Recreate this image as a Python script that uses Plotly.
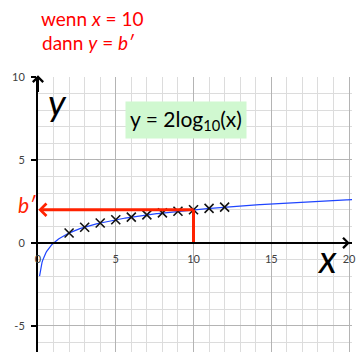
import numpy as np
import plotly.graph_objects as go

# Sample points marked with crosses
x_points = [2, 3, 4, 5, 6, 7, 8, 9, 10, 11, 12]
y_points = [0.60, 0.95, 1.20, 1.40, 1.56, 1.69, 1.81, 1.91, 2.00, 2.08, 2.16]

# Highlighted value: x = 10 gives y = b'
x_mark = 10
b_prime = 2.0

# Axis ranges and ticks
x_range = [0, 20.19]
y_range = [-6.57, 10]
x_ticks = [0, 5, 10, 15, 20]
y_ticks = [10, 5, 0, -5]
y_ticktext = ["10", "5", "0", "-5"]

# Curve y = 2*log10(x)
x_curve = np.linspace(0.1, 20.4, 400)
y_curve = 2 * np.log10(x_curve)

RED = "#ff2200"
FONT = "Lato"

fig = go.Figure()

fig.add_trace(go.Scatter(
    x=x_curve, y=y_curve, mode="lines",
    line=dict(color="#1f45ff", width=1.2), hoverinfo="skip",
))

fig.add_trace(go.Scatter(
    x=x_points, y=y_points, mode="markers",
    marker=dict(symbol="x-thin", size=9, line=dict(color="#111111", width=1.6)),
))

# vertical red segment from the x axis up to the curve
fig.add_trace(go.Scatter(
    x=[x_mark, x_mark], y=[0, b_prime], mode="lines",
    line=dict(color=RED, width=3), hoverinfo="skip",
))

annotations = [
    # horizontal red arrow to the y axis
    dict(x=0.02, y=b_prime, ax=x_mark + 0.1, ay=b_prime, xref="x", yref="y",
         axref="x", ayref="y", text="", showarrow=True, arrowhead=4,
         arrowsize=0.8, arrowwidth=3, arrowcolor=RED, standoff=0),
    # axis arrowheads
    dict(x=0, y=10.1, ax=0, ay=9, xref="x", yref="y", axref="x", ayref="y",
         text="", showarrow=True, arrowhead=4, arrowsize=1, arrowwidth=2,
         arrowcolor="black", standoff=0),
    dict(x=20.05, y=0, ax=19, ay=0, xref="x", yref="y", axref="x", ayref="y",
         text="", showarrow=True, arrowhead=4, arrowsize=1, arrowwidth=2,
         arrowcolor="black", standoff=0),
    # axis titles
    dict(x=1.25, y=8.55, xref="x", yref="y", text="<i>y</i>", showarrow=False,
         font=dict(family=FONT, size=37, color="black")),
    dict(x=18.6, y=-0.9, xref="x", yref="y", text="<i>x</i>", showarrow=False,
         font=dict(family=FONT, size=38, color="black")),
    # b' label (left of the plotting area)
    dict(x=-0.034, y=0.535, xref="paper", yref="paper", text="<i>b′</i>",
         showarrow=False, xanchor="center", yanchor="middle",
         font=dict(family=FONT, size=21, color=RED)),
    # function label
    dict(x=9.5, y=7.4, xref="x", yref="y",
         text="y = 2log<sub>10</sub>(x)", showarrow=False,
         bgcolor="#d0f8d0", borderpad=4,
         font=dict(family=FONT, size=21, color="black")),
    # heading
    dict(x=0.172, y=1.211, xref="paper", yref="paper", text="wenn <i>x</i> = 10",
         showarrow=False, xanchor="center", yanchor="middle",
         font=dict(family=FONT, size=19, color="red")),
    dict(x=0.162, y=1.125, xref="paper", yref="paper", text="dann <i>y</i> = <i>b′</i>",
         showarrow=False, xanchor="center", yanchor="middle",
         font=dict(family=FONT, size=19, color="red")),
]

axis_pos = (0 - y_range[0]) / (y_range[1] - y_range[0])

fig.update_layout(
    width=356, height=352,
    margin=dict(l=38, r=0, t=77, b=0),
    paper_bgcolor="white", plot_bgcolor="white",
    showlegend=False,
    annotations=annotations,
    xaxis=dict(
        range=x_range, tickvals=x_ticks, ticks="",
        showgrid=True, gridcolor="#b4b4b4", gridwidth=1,
        minor=dict(dtick=1, showgrid=True, gridcolor="#dcdcdc", gridwidth=1),
        zeroline=False, showline=True, linecolor="black", linewidth=2,
        anchor="free", position=axis_pos, ticklabelstandoff=6,
        ticklabeloverflow="allow",
        tickfont=dict(family=FONT, size=11, color="#404040"),
        fixedrange=True,
    ),
    yaxis=dict(
        range=y_range, tickvals=y_ticks, ticktext=y_ticktext,
        ticks="outside", ticklen=5, tickcolor="black", tickwidth=1.5,
        showgrid=True, gridcolor="#b4b4b4", gridwidth=1,
        minor=dict(dtick=1, showgrid=True, gridcolor="#dcdcdc", gridwidth=1),
        zeroline=False, showline=True, linecolor="black", linewidth=2,
        ticklabelstandoff=4,
        tickfont=dict(family=FONT, size=11, color="#404040"),
        fixedrange=True,
    ),
)

fig.write_html("out.html")
